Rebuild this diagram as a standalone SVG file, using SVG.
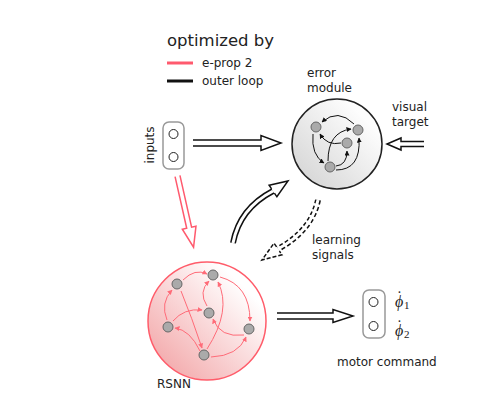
<svg xmlns="http://www.w3.org/2000/svg" width="502" height="410" viewBox="0 0 502 410">
<style>
text{font-family:"DejaVu Sans","Liberation Sans",sans-serif;fill:#222}
.lbl{font-size:12px}
.node{fill:#aaaaaa;stroke:#666;stroke-width:1}
.port{fill:#fff;stroke:#222;stroke-width:1}
.box{fill:#fff;stroke:#999;stroke-width:1.5}
.redE{fill:none;stroke:#ff6b78;stroke-width:1;marker-end:url(#ar)}
.blkE{fill:none;stroke:#111;stroke-width:1;marker-end:url(#ab)}
.fat{fill:#fff;stroke:#111;stroke-width:1.5;stroke-linejoin:miter}
.math{font-family:"Liberation Serif","DejaVu Serif",serif;font-style:italic;font-size:16px}
.dot{font-style:normal}
.sub{font-style:normal;font-size:11px}
</style>
<defs>
<linearGradient id="gR" x1="0.1" y1="0.9" x2="0.8" y2="0.2">
<stop offset="0" stop-color="#f3a9ab"/>
<stop offset="1" stop-color="#ffffff"/>
</linearGradient>
<linearGradient id="gE" x1="0.1" y1="0.9" x2="0.8" y2="0.2">
<stop offset="0" stop-color="#d6d6d6"/>
<stop offset="1" stop-color="#fdfdfd"/>
</linearGradient>
<marker id="ar" viewBox="0 0 10 10" refX="9" refY="5" markerWidth="5" markerHeight="5" markerUnits="userSpaceOnUse" orient="auto">
<path d="M0,0 L10,5 L0,10 z" fill="#ff6b78"/>
</marker>
<marker id="ab" viewBox="0 0 10 10" refX="9" refY="5" markerWidth="5" markerHeight="5" markerUnits="userSpaceOnUse" orient="auto">
<path d="M0,0 L10,5 L0,10 z" fill="#111"/>
</marker>
</defs>
<rect width="502" height="410" fill="#fff"/>

<g id="legend">
<text x="167" y="46" style="font-size:16.5px">optimized by</text>
<line x1="167" y1="63" x2="193" y2="63" stroke="#ff5a6e" stroke-width="3"/>
<text class="lbl" x="202" y="67">e-prop 2</text>
<line x1="167" y1="81" x2="193" y2="81" stroke="#111" stroke-width="3"/>
<text class="lbl" x="202" y="85">outer loop</text>
</g>

<g id="inputs">
<rect class="box" x="163" y="122" width="21" height="47" rx="6"/>
<circle class="port" cx="173.5" cy="134" r="4.5"/>
<circle class="port" cx="173.5" cy="157" r="4.5"/>
<text class="lbl" transform="translate(154,145) rotate(-90)" text-anchor="middle">inputs</text>
</g>

<g id="error-module">
<circle cx="337" cy="144" r="45" fill="url(#gE)" stroke="#222" stroke-width="1.5"/>
<path class="blkE" d="M354,124 Q338,108 322,122"/>
<path class="blkE" d="M313,134 Q311,155 324,163"/>
<path class="blkE" d="M328,161 Q328,132 351,129"/>
<path class="blkE" d="M341,143 Q327,146 320,134"/>
<path class="blkE" d="M336,166 Q347,165 347,151"/>
<path class="blkE" d="M336,170 Q361,170 359,138"/>
<circle class="node" cx="316" cy="127" r="5"/>
<circle class="node" cx="358" cy="130" r="5"/>
<circle class="node" cx="347" cy="143" r="5"/>
<circle class="node" cx="330" cy="167" r="5"/>
<text class="lbl" x="307" y="77">error</text>
<text class="lbl" x="307" y="92">module</text>
</g>

<g id="visual-target">
<text class="lbl" x="392" y="111">visual</text>
<text class="lbl" x="392" y="126">target</text>
</g>

<g id="rsnn">
<circle cx="207" cy="321" r="59" fill="url(#gR)" stroke="#ff5c6a" stroke-width="1.5"/>
<path class="redE" d="M183,280 Q195,268 207,274"/>
<path class="redE" d="M181,291 Q192,318 202,348"/>
<path class="redE" d="M167,320 Q160,303 172,290"/>
<path class="redE" d="M173,321 Q184,308 202,310"/>
<path class="redE" d="M207,306 Q198,292 209,281"/>
<path class="redE" d="M207,349 Q232,310 218,282"/>
<path class="redE" d="M220,277 Q250,285 250,321"/>
<path class="redE" d="M200,351 Q190,330 175,328"/>
<path class="redE" d="M244,335 Q220,338 213,319"/>
<path class="redE" d="M211,357 Q238,356 246,337"/>
<circle class="node" cx="177" cy="284" r="5"/>
<circle class="node" cx="213" cy="275" r="5"/>
<circle class="node" cx="209" cy="313" r="5"/>
<circle class="node" cx="168" cy="327" r="5"/>
<circle class="node" cx="249" cy="329" r="5"/>
<circle class="node" cx="204" cy="355" r="5"/>
<text class="lbl" x="157" y="388">RSNN</text>
</g>

<g id="motor">
<rect class="box" x="363" y="290" width="22" height="48" rx="6"/>
<circle class="port" cx="373.5" cy="302" r="4.5"/>
<circle class="port" cx="373.5" cy="326" r="4.5"/>
<text class="math" x="395" y="307">ϕ<tspan class="dot" dx="-6.5" dy="-5">˙</tspan><tspan class="sub" dx="2" dy="7">1</tspan></text>
<text class="math" x="395" y="336">ϕ<tspan class="dot" dx="-6.5" dy="-5">˙</tspan><tspan class="sub" dx="2" dy="7">2</tspan></text>
<text class="lbl" x="337" y="366">motor command</text>
</g>

<g id="learning-signals">
<text class="lbl" x="312" y="244">learning</text>
<text class="lbl" x="312" y="259">signals</text>
</g>

<g id="connectors">
<path class="fat" d="M193,140 H261 V135.5 L281,143 L261,150.5 V146 H193"/>
<path class="fat" d="M424,141.5 H401 V138 L387,144 L401,150 V146.5 H424"/>
<path class="fat" d="M277,313 H333 V309.5 L353,316 L333,322.5 V319 H277"/>
<path class="fat" transform="translate(177.5,176) rotate(77.3)" style="stroke:#ff5a6e" d="M0,-2.5 H53 V-7 L73,0 L53,7 V2.5 H0"/>
<path d="M233,243 C237,222 250,203 273,191" fill="none" stroke="#111" stroke-width="6"/>
<path d="M233,243 C237,222 250,203 273,191" fill="none" stroke="#fff" stroke-width="3"/>
<path class="fat" d="M271.6,188.9 L269.1,185.2 L288,181 L276.9,196.8 L274.4,193.1"/>
<path d="M318,200 C314,220 300,237 278,249" fill="none" stroke="#111" stroke-width="6" stroke-dasharray="4,2.5"/>
<path d="M318,200 C314,220 300,237 278,249" fill="none" stroke="#fff" stroke-width="3"/>
<path class="fat" stroke-dasharray="4,2" d="M276.6,246.9 L274,243.2 L262,260 L282,254.8 L279.4,251.1"/>
</g>
</svg>
